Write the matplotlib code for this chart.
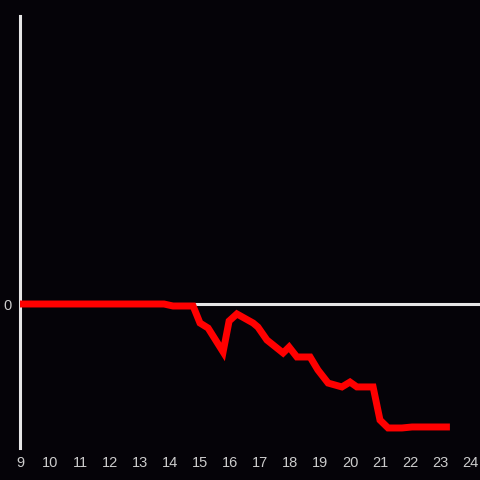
import numpy as np
import matplotlib.pyplot as plt

# hour of day vs value (relative units, 0 = baseline)
hours = [9.0, 13.8, 14.1, 14.77, 15.0, 15.27, 15.77, 15.97, 16.23, 16.77, 16.93,
         17.23, 17.77, 17.97, 18.23, 18.67, 18.93, 19.27, 19.73, 20.0, 20.23,
         20.77, 21.0, 21.27, 21.73, 22.07, 23.33]
values = [0.0, 0.0, -0.014, -0.014, -0.132, -0.167, -0.333, -0.118, -0.069, -0.132,
          -0.160, -0.250, -0.340, -0.299, -0.368, -0.368, -0.458, -0.549, -0.576,
          -0.542, -0.576, -0.576, -0.806, -0.861, -0.861, -0.854, -0.854]
xticks = list(range(9, 25))

bg = '#050308'
fig = plt.figure(figsize=(4.8, 4.8), dpi=100, facecolor=bg)
ax = fig.add_axes([20 / 480, 32 / 480, 460 / 480, 432 / 480])
ax.set_facecolor(bg)

ax.axhline(0, color='#e6e6e6', lw=2.2, zorder=1)
ax.plot(hours, values, color='#ff0000', lw=5, solid_joinstyle='miter',
        solid_capstyle='butt', zorder=3)

ax.set_xlim(9, 9 + 460 / 30)
ax.set_ylim(-1.0, 2.0)

for s in ['top', 'right', 'bottom']:
    ax.spines[s].set_visible(False)
ax.spines['left'].set_color('#e6e6e6')
ax.spines['left'].set_linewidth(2.2)

ax.set_xticks(xticks)
ax.set_yticks([0])
ax.tick_params(length=0, colors='#cccccc', labelsize=10.5, pad=6)
for lbl in ax.get_xticklabels() + ax.get_yticklabels():
    lbl.set_family('Liberation Sans')

fig.savefig('out.png', facecolor=bg)
